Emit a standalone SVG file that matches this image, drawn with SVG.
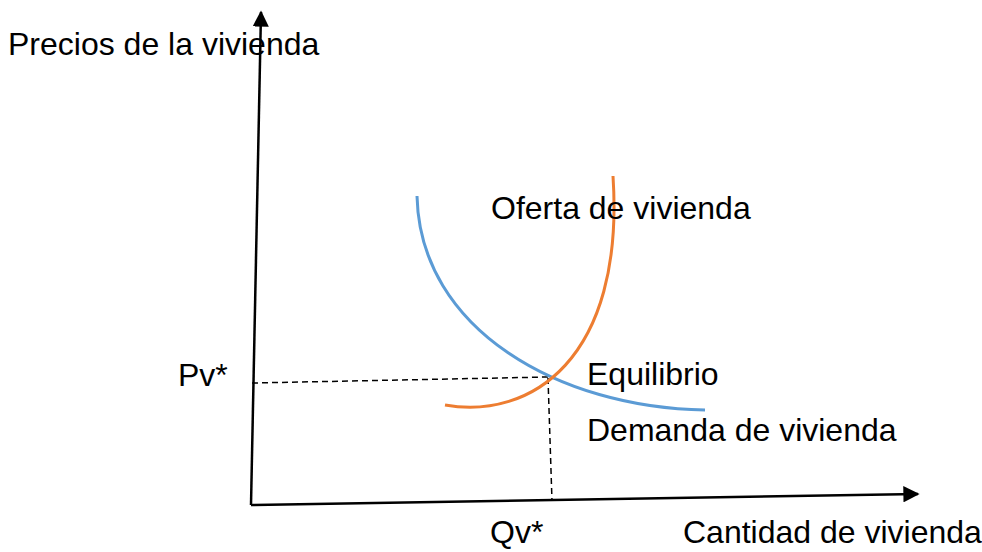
<svg xmlns="http://www.w3.org/2000/svg" width="982" height="552" viewBox="0 0 982 552">
<defs>
<style>
text{font-family:"Liberation Sans",Arial,sans-serif;font-size:32px;fill:#000}
.axis{stroke:#000;stroke-width:2.5;fill:none}
.dash{stroke:#000;stroke-width:1.5;stroke-dasharray:6 4;fill:none}
</style>
<marker id="arr" viewBox="0 0 10 10" refX="9" refY="5" markerWidth="6.5" markerHeight="6.5" markerUnits="strokeWidth" orient="auto">
<path d="M0,0 L10,5 L0,10 z" fill="#000"/>
</marker>
</defs>
<rect width="982" height="552" fill="#fff"/>
<g id="connectors">
<line class="axis" x1="251" y1="505" x2="261" y2="12" marker-end="url(#arr)"/>
<line class="axis" x1="251" y1="505" x2="918" y2="494" marker-end="url(#arr)"/>
<line class="dash" x1="252" y1="383" x2="548" y2="377"/>
<line class="dash" x1="548" y1="378" x2="552" y2="501"/>
</g>
<g id="demanda">
<path d="M417,196 C420,330 560,408 705,410" stroke="#5B9BD5" stroke-width="3" fill="none"/>
</g>
<g id="oferta">
<path d="M445,405 C530,420 625,360 613,176" stroke="#ED7D31" stroke-width="3" fill="none"/>
</g>
<g id="labels">
<text x="8" y="55">Precios de la vivienda</text>
<text x="491" y="219">Oferta de vivienda</text>
<text x="587" y="385">Equilibrio</text>
<text x="587" y="441">Demanda de vivienda</text>
<text x="178" y="386">Pv*</text>
<text x="490" y="543">Qv*</text>
<text x="683" y="543">Cantidad de vivienda</text>
</g>
</svg>
